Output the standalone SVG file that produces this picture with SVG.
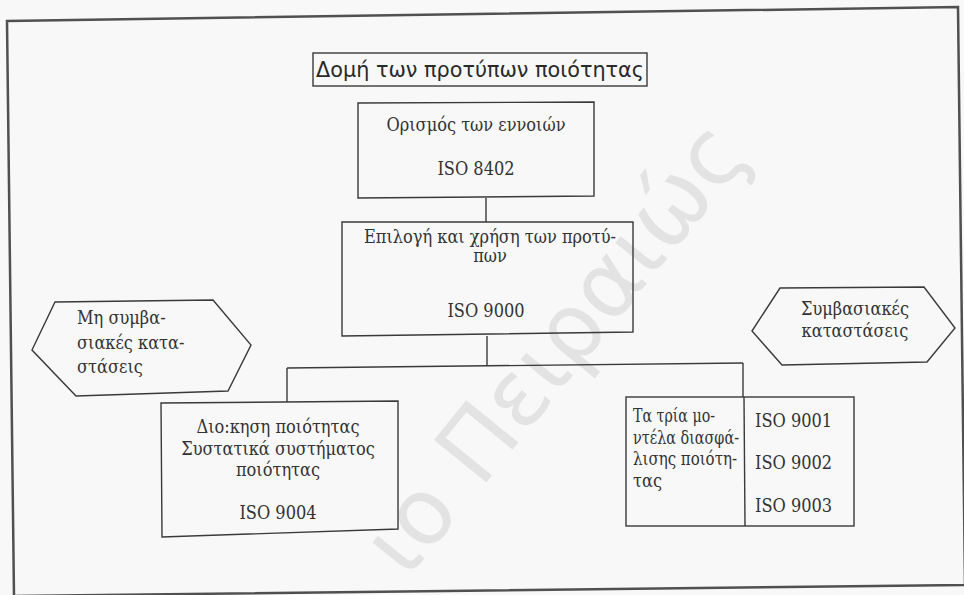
<svg xmlns="http://www.w3.org/2000/svg" width="964" height="595" viewBox="0 0 964 595">
  <style>
    .frame { fill: none; stroke: #505050; stroke-width: 2.5; }
    .box { fill: none; stroke: #3a3a3a; stroke-width: 1.4; }
    .conn line { stroke: #3a3a3a; stroke-width: 1.4; }
    .t { font-family: "DejaVu Serif Condensed", "DejaVu Serif", "Liberation Serif", serif; font-stretch: condensed; font-size: 18px; fill: #333; }
    .c { text-anchor: middle; }
    .title { font-family: "DejaVu Sans", "Liberation Sans", sans-serif; font-size: 22px; fill: #2a2a2a; }
    .wm { font-family: "DejaVu Sans", "Liberation Sans", sans-serif; font-size: 92px; fill: #e3e3e3; }
  </style>
  <rect x="0" y="0" width="964" height="595" fill="#f8f8f8"/>
  <text class="wm" x="407" y="580" transform="rotate(-51 407 580)">ιο Πειραιώς</text>
  <polygon class="frame" points="7,21 958,7 965,585 14,596"/>

  <g id="title">
    <rect class="box" x="313" y="53" width="334" height="33"/>
    <text class="title" x="316" y="77" textLength="328" lengthAdjust="spacingAndGlyphs">Δομή των προτύπων ποιότητας</text>
  </g>

  <g class="conn" id="connectors">
    <line x1="486" y1="198" x2="486" y2="222"/>
    <line x1="487" y1="336" x2="487" y2="366"/>
    <line x1="287" y1="368" x2="743" y2="363"/>
    <line x1="287" y1="368" x2="287" y2="402"/>
    <line x1="743" y1="363" x2="743" y2="397"/>
  </g>

  <g id="node-8402">
    <polygon class="box" points="358,103 594,102 594,196 358,198"/>
    <text class="t c" x="476" y="131">Ορισμός των εννοιών</text>
    <text class="t c" x="476" y="175">ISO 8402</text>
  </g>

  <g id="node-9000">
    <polygon class="box" points="342,222 633,222 633,332 342,336"/>
    <text class="t c" x="490" y="243">Επιλογή και χρήση των προτύ-</text>
    <text class="t c" x="490" y="262">πων</text>
    <text class="t c" x="486" y="317">ISO 9000</text>
  </g>

  <g id="node-nonconformal">
    <polygon class="box" points="32,350 55,302 213,300 251,345 228,391 76,396"/>
    <text class="t" x="77" y="324">Μη συμβα-</text>
    <text class="t" x="77" y="349">σιακές κατα-</text>
    <text class="t" x="77" y="373">στάσεις</text>
  </g>

  <g id="node-conformal">
    <polygon class="box" points="752,331 780,288 924,287 955,328 927,362 782,365"/>
    <text class="t c" x="855" y="315">Συμβασιακές</text>
    <text class="t c" x="855" y="337">καταστάσεις</text>
  </g>

  <g id="node-9004">
    <polygon class="box" points="161,403 398,401 398,529 162,537"/>
    <text class="t c" x="278" y="433">Διο:κηση ποιότητας</text>
    <text class="t c" x="278" y="455">Συστατικά συστήματος</text>
    <text class="t c" x="278" y="476">ποιότητας</text>
    <text class="t c" x="278" y="519">ISO 9004</text>
  </g>

  <g id="node-9001-9003">
    <rect class="box" x="626" y="397" width="228" height="129"/>
    <line class="box" x1="744" y1="397" x2="745" y2="526"/>
    <text class="t" x="633" y="422" textLength="82" lengthAdjust="spacingAndGlyphs">Τα τρία μο-</text>
    <text class="t" x="633" y="444" textLength="106" lengthAdjust="spacingAndGlyphs">ντέλα διασφά-</text>
    <text class="t" x="633" y="465" textLength="104" lengthAdjust="spacingAndGlyphs">λισης ποιότη-</text>
    <text class="t" x="633" y="487">τας</text>
    <text class="t" x="755" y="427">ISO 9001</text>
    <text class="t" x="755" y="469">ISO 9002</text>
    <text class="t" x="755" y="512">ISO 9003</text>
  </g>
</svg>
